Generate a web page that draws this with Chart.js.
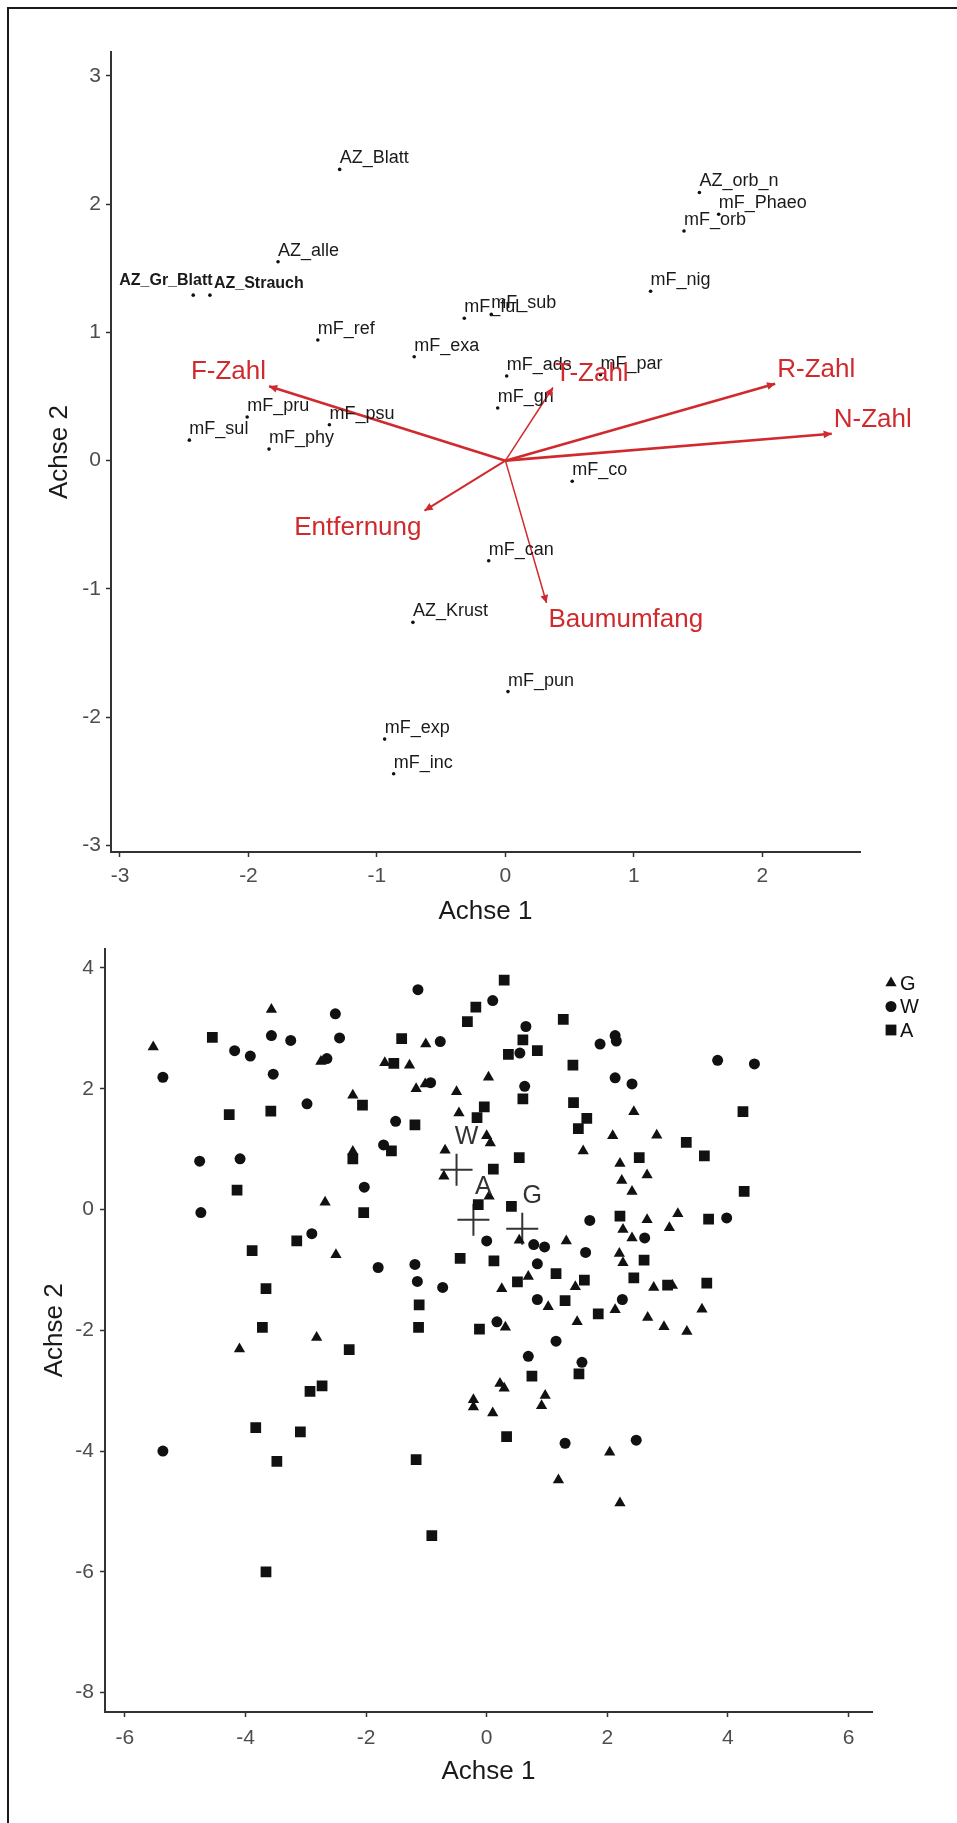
<!DOCTYPE html>
<html>
<head>
<meta charset="utf-8">
<script src="https://cdn.jsdelivr.net/npm/chart.js@4.4.1/dist/chart.umd.min.js"></script>
<style>
  body { margin: 0; background: #fff; }
  #page { position: relative; width: 957px; height: 1823px; overflow: hidden; }
  #frame { position: absolute; left: 7px; top: 7px; width: 980px; height: 1850px;
           border-top: 2px solid #1a1a1a; border-left: 2px solid #1a1a1a; }
  #ordination { position: absolute; left: 0; top: 0; }
  #sites { position: absolute; left: 0; top: 930px; }
</style>
</head>
<body>
<div id="page">
  <canvas id="ordination" width="957" height="930"></canvas>
  <canvas id="sites" width="957" height="893"></canvas>
  <div id="frame"></div>
</div>
<script>
// ---- top plot: species scores and environmental vectors ----
const speciesNames = ['AZ_Blatt', 'AZ_orb_n', 'mF_Phaeo', 'mF_orb', 'AZ_alle', 'AZ_Gr_Blatt', 'AZ_Strauch',
  'mF_nig', 'mF_ful', 'mF_sub', 'mF_ref', 'mF_exa', 'mF_ads', 'mF_par', 'mF_gri', 'mF_pru', 'mF_psu',
  'mF_sul', 'mF_phy', 'mF_co', 'mF_can', 'AZ_Krust', 'mF_pun', 'mF_exp', 'mF_inc'];
const speciesAxis1 = [-1.29, 1.51, 1.66, 1.39, -1.77, -2.43, -2.30, 1.13, -0.32, -0.11, -1.46, -0.71, 0.01,
  0.74, -0.06, -2.01, -1.37, -2.46, -1.84, 0.52, -0.13, -0.72, 0.02, -0.94, -0.87];
const speciesAxis2 = [2.27, 2.09, 1.92, 1.79, 1.55, 1.29, 1.29, 1.32, 1.11, 1.14, 0.94, 0.81, 0.66,
  0.67, 0.41, 0.34, 0.28, 0.16, 0.09, -0.16, -0.78, -1.26, -1.80, -2.17, -2.44];

const envNames = ['F-Zahl', 'T-Zahl', 'R-Zahl', 'N-Zahl', 'Entfernung', 'Baumumfang'];
const envAxis1 = [-1.84, 0.37, 2.10, 2.54, -0.63, 0.32];
const envAxis2 = [0.58, 0.57, 0.60, 0.21, -0.39, -1.11];

const topTicksX = [-3, -2, -1, 0, 1, 2];
const topTicksY = [-3, -2, -1, 0, 1, 2, 3];

// ---- bottom plot: sites per group ----
const gAxis1 = [-5.53, -3.57, -2.75, -1.69, -1.28, -1.01, -1.17, -1.02, -0.50, -0.46, -2.22, 0.03, -0.69,
  -2.22, 0.00, 0.06, -0.71, 0.04, 2.44, 2.09, 2.82, 1.60, 2.21, 2.24, 2.66, 2.41, 2.66, 3.17, 3.03, 2.26,
  2.41, -2.68, 0.54, 1.32, 2.20, 2.26, 0.69, 0.25, 1.47, 2.77, 3.08, 1.02, 2.13, 3.57, 1.50, 2.67, 2.94,
  3.32, 0.31, -2.50, -2.82, -4.10, -0.22, -0.22, 0.22, 0.29, 0.97, 0.91, 0.10, 2.04, 1.19, 2.21];
const gAxis2 = [2.69, 3.31, 2.45, 2.43, 2.39, 2.74, 2.00, 2.08, 1.95, 1.60, 1.89, 2.19, 0.98,
  0.96, 1.22, 1.10, 0.55, 0.22, 1.62, 1.22, 1.23, 0.97, 0.76, 0.48, 0.57, 0.30, -0.17, -0.07, -0.30, -0.33,
  -0.47, 0.12, -0.51, -0.52, -0.73, -0.88, -1.11, -1.31, -1.28, -1.29, -1.26, -1.61, -1.66, -1.65, -1.86, -1.79, -1.94,
  -2.02, -1.95, -0.75, -2.12, -2.31, -3.15, -3.27, -2.88, -2.96, -3.08, -3.25, -3.37, -4.02, -4.48, -4.86];

const wAxis1 = [-5.37, -4.18, -3.92, -3.57, -3.54, -3.25, -2.51, -2.44, -2.65, -1.14, -0.77, -0.93, -2.98,
  -1.51, -1.71, -4.76, -4.09, 0.10, 0.65, 0.55, 1.88, 2.13, 2.15, 3.83, 4.44, 0.63, 2.13, 2.41, -2.03,
  -4.74, 1.71, 3.98, 2.62, 0.00, 0.78, 0.96, 1.64, 0.84, 0.84, 2.25, 0.17, 1.15, 0.69, 1.58, -2.90, -1.80,
  -1.19, -1.15, -0.73, -5.37, 1.30, 2.48];
const wAxis2 = [2.19, 2.63, 2.54, 2.88, 2.24, 2.80, 3.24, 2.84, 2.50, 3.64, 2.78, 2.10, 1.75,
  1.46, 1.07, 0.80, 0.84, 3.46, 3.03, 2.59, 2.74, 2.88, 2.79, 2.47, 2.41, 2.04, 2.18, 2.08, 0.37,
  -0.05, -0.18, -0.14, -0.47, -0.52, -0.58, -0.62, -0.71, -0.90, -1.49, -1.49, -1.86, -2.18, -2.43, -2.53, -0.40, -0.96,
  -0.91, -1.19, -1.29, -4.00, -3.87, -3.82];

const aAxis1 = [-4.55, -1.41, -1.54, -0.18, -0.32, -0.16, -2.06, -4.27, -3.58, -1.19, -1.58, -2.22, 0.29,
  0.60, 0.36, 0.84, 1.27, 1.43, 0.60, 1.44, 1.66, 1.52, 4.25, 3.31, 3.61, 0.54, 2.53, -0.04, 0.11, -0.14,
  0.41, 4.27, 2.21, 3.68, -4.14, -2.04, -3.15, -3.89, -0.44, -3.66, -1.12, -1.13, -0.12, -3.72, -2.28,
  2.61, 0.12, 1.15, 0.51, 1.62, 2.44, 3.00, 3.65, 1.30, 1.85, -2.93, -2.73, -3.83, -3.09, -3.48, -1.17,
  -0.91, -3.66, 0.75, 1.53, 0.33];
const aAxis2 = [2.85, 2.83, 2.42, 3.35, 3.11, 1.52, 1.73, 1.57, 1.63, 1.40, 0.97, 0.84, 3.80,
  2.81, 2.57, 2.63, 3.15, 2.39, 1.83, 1.77, 1.51, 1.34, 1.62, 1.11, 0.89, 0.86, 0.86, 1.70, 0.67, 0.08,
  0.05, 0.30, -0.11, -0.16, 0.32, -0.05, -0.52, -0.68, -0.81, -1.31, -1.58, -1.95, -1.98, -1.95, -2.32,
  -0.84, -0.85, -1.06, -1.20, -1.17, -1.13, -1.25, -1.22, -1.51, -1.73, -3.01, -2.92, -3.61, -3.68, -4.17, -4.14,
  -5.40, -6.00, -2.76, -2.72, -3.76];

const centroidNames = ['W', 'A', 'G'];
const centroidAxis1 = [-0.50, -0.22, 0.59];
const centroidAxis2 = [0.66, -0.17, -0.32];

const bottomTicksX = [-6, -4, -2, 0, 2, 4, 6];
const bottomTicksY = [-8, -6, -4, -2, 0, 2, 4];

// ---- styling ----
const fontFamily = "'Liberation Sans', Arial, sans-serif";
const red = '#d02a2e';
const envLineWidth = [2.6, 1.5, 2.6, 2.6, 2.0, 1.5];
const boldLabels = ['AZ_Gr_Blatt', 'AZ_Strauch'];
const labelNudge = { 'AZ_Gr_Blatt': [-74, -10], 'AZ_Strauch': [4, -7] };

Chart.defaults.font.family = fontFamily;

function pts(xs, ys) {
    return xs.map((x, i) => ({ x: x, y: ys[i] }));
}

function axis(min, max, ticks, title, isX, size, tickPad, titlePad) {
    return {
        type: 'linear',
        min: min,
        max: max,
        afterBuildTicks: (s) => { s.ticks = ticks.map((v) => ({ value: v })); },
        afterFit: (s) => { if (isX) s.height = size; else s.width = size; },
        grid: { drawOnChartArea: false, tickLength: 5, tickColor: '#333', tickWidth: 1.5 },
        border: { color: '#333', width: 2 },
        ticks: {
            autoSkip: false, maxRotation: 0, padding: tickPad,
            color: '#4d4d4d', font: { size: 21 },
            callback: (v) => String(v)
        },
        title: { display: true, text: title, color: '#1a1a1a', font: { size: 26 }, padding: titlePad }
    };
}

function arrowHead(ctx, a, b) {
    const ang = Math.atan2(b.y - a.y, b.x - a.x);
    const len = 9, spread = 0.45;
    ctx.beginPath();
    ctx.moveTo(b.x, b.y);
    ctx.lineTo(b.x - len * Math.cos(ang - spread), b.y - len * Math.sin(ang - spread));
    ctx.lineTo(b.x - len * Math.cos(ang + spread), b.y - len * Math.sin(ang + spread));
    ctx.closePath();
    ctx.fill();
}

const ordinationLabels = {
    id: 'ordinationLabels',
    afterDatasetsDraw(chart) {
        const ctx = chart.ctx;
        ctx.save();
        ctx.textAlign = 'left';
        ctx.textBaseline = 'alphabetic';
        ctx.fillStyle = '#1a1a1a';
        chart.getDatasetMeta(0).data.forEach((p, i) => {
            const name = speciesNames[i];
            const nudge = labelNudge[name] || [0, -6];
            ctx.font = (boldLabels.includes(name) ? 'bold 16px ' : '18px ') + fontFamily;
            ctx.fillText(name, p.x + nudge[0], p.y + nudge[1]);
        });

        ctx.fillStyle = red;
        ctx.font = '26px ' + fontFamily;
        envNames.forEach((name, i) => {
            const meta = chart.getDatasetMeta(i + 1);
            const a = meta.data[0], b = meta.data[1];
            arrowHead(ctx, a, b);
            const left = envAxis1[i] < 0;
            const below = envAxis2[i] < 0;
            ctx.textAlign = left ? 'right' : 'left';
            ctx.fillText(name, b.x + (left ? -3 : 2), b.y + (below ? 24 : -7));
        });
        ctx.restore();
    }
};

function legendShape(ctx, style, x, y) {
    ctx.beginPath();
    if (style === 'triangle') {
        const r = 6.5;
        ctx.moveTo(x, y - r);
        ctx.lineTo(x + r * Math.sin(2 * Math.PI / 3), y - r * Math.cos(2 * Math.PI / 3));
        ctx.lineTo(x + r * Math.sin(4 * Math.PI / 3), y - r * Math.cos(4 * Math.PI / 3));
        ctx.closePath();
    } else if (style === 'circle') {
        ctx.arc(x, y, 5.5, 0, Math.PI * 2);
    } else {
        ctx.rect(x - 5.4, y - 5.4, 10.8, 10.8);
    }
    ctx.fill();
}

const siteLabels = {
    id: 'siteLabels',
    afterDatasetsDraw(chart) {
        const ctx = chart.ctx;
        ctx.save();
        ctx.fillStyle = '#333';
        ctx.font = '25px ' + fontFamily;
        ctx.textAlign = 'center';
        ctx.textBaseline = 'middle';
        chart.getDatasetMeta(3).data.forEach((p, i) => {
            ctx.fillText(centroidNames[i], p.x + 10, p.y - 33);
        });

        // legend
        const styles = ['triangle', 'circle', 'rect'];
        ctx.fillStyle = '#111';
        ctx.font = '20px ' + fontFamily;
        ctx.textAlign = 'left';
        [0, 1, 2].forEach((i) => {
            const y = 53 + i * 23.5;
            legendShape(ctx, styles[i], 891, y);
            ctx.fillText(chart.data.datasets[i].label, 900, y + 1);
        });
        ctx.restore();
    }
};

const arrowSets = envNames.map((name, i) => ({
    label: name,
    data: [{ x: 0, y: 0 }, { x: envAxis1[i], y: envAxis2[i] }],
    showLine: true,
    borderColor: red,
    borderWidth: envLineWidth[i],
    pointRadius: 0
}));

new Chart(document.getElementById('ordination'), {
    type: 'scatter',
    data: {
        datasets: [{
            label: 'Arten',
            data: pts(speciesAxis1, speciesAxis2),
            pointRadius: 1.8,
            pointBackgroundColor: '#111',
            pointBorderWidth: 0
        }].concat(arrowSets)
    },
    options: {
        responsive: false,
        animation: false,
        events: [],
        layout: { padding: { left: 0, top: 52, right: 97, bottom: 0 } },
        scales: {
            x: axis(-3.07, 2.76, topTicksX, 'Achse 1', true, 78, 7, { top: 0, bottom: 3 }),
            y: axis(-3.05, 3.185, topTicksY, 'Achse 2', false, 111, 5, { top: 44, bottom: 0 })
        },
        plugins: { legend: { display: false }, tooltip: { enabled: false } }
    },
    plugins: [ordinationLabels]
});

new Chart(document.getElementById('sites'), {
    type: 'scatter',
    data: {
        datasets: [
            { label: 'G', data: pts(gAxis1, gAxis2), pointStyle: 'triangle', pointRadius: 6.5,
              pointBackgroundColor: '#111', pointBorderWidth: 0 },
            { label: 'W', data: pts(wAxis1, wAxis2), pointStyle: 'circle', pointRadius: 5.5,
              pointBackgroundColor: '#111', pointBorderWidth: 0 },
            { label: 'A', data: pts(aAxis1, aAxis2), pointStyle: 'rect', pointRadius: 7.6,
              pointBackgroundColor: '#111', pointBorderWidth: 0 },
            { label: 'Zentroide', data: pts(centroidAxis1, centroidAxis2), pointStyle: 'cross', pointRadius: 16,
              pointBorderColor: '#333', pointBorderWidth: 2 }
        ]
    },
    options: {
        responsive: false,
        animation: false,
        events: [],
        layout: { padding: { left: 0, top: 14, right: 85, bottom: 0 } },
        scales: {
            x: axis(-6.33, 6.39, bottomTicksX, 'Achse 1', true, 111, 9, { top: 0, bottom: 36 }),
            y: axis(-8.32, 4.32, bottomTicksY, 'Achse 2', false, 105, 6, { top: 39, bottom: 0 })
        },
        plugins: { legend: { display: false }, tooltip: { enabled: false } }
    },
    plugins: [siteLabels]
});
</script>
</body>
</html>
